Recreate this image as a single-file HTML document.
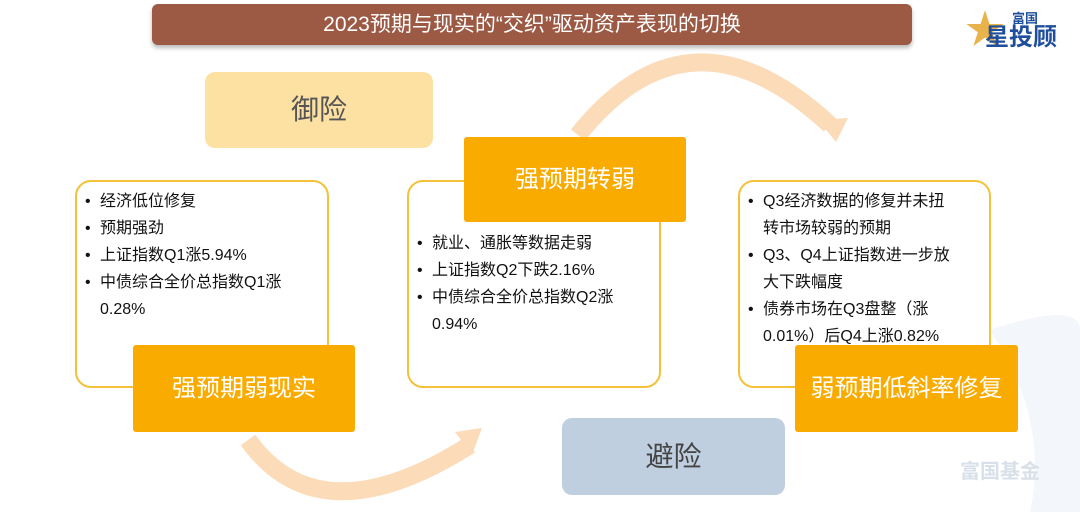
<!DOCTYPE html>
<html><head><meta charset="utf-8"><style>
body{margin:0;width:1080px;height:512px;background:#fff;position:relative;overflow:hidden;font-family:"Liberation Sans","Noto Sans CJK SC",sans-serif;}
.a{position:absolute;box-sizing:border-box;}
.title{left:152px;top:4px;width:760px;height:41px;background:#9c5a45;border-radius:6px;color:#fff;font-size:21px;text-align:center;line-height:41px;box-shadow:0 3px 4px #bbb;}
.box{border:2px solid #f3c23a;border-radius:16px;background:#fff;}
.or{background:#f9ab00;color:#fff;font-size:24px;text-align:center;border-radius:3px;}
ul{margin:0;padding:0;list-style:none;font-size:16px;line-height:27px;color:#111;}
li{padding-left:15px;position:relative;}
li:before{content:"•";position:absolute;left:0;}
</style></head><body>
<svg class="a" style="left:0;top:0" width="1080" height="512">
<path d="M248,440 Q320,540 470,445" fill="none" stroke="#fcdcb8" stroke-width="18"/>
<polygon points="455,432 482,428 472,455" fill="#fcdcb8"/>
<path d="M578,135 Q690,-5 830,125" fill="none" stroke="#fcdcb8" stroke-width="18"/>
<polygon points="818,120 848,118 836,142" fill="#fcdcb8"/>
<path d="M990,330 Q1080,300 1080,330 L1080,512 L1030,512 Q1050,420 990,330Z" fill="#f3f6fa"/>
</svg>
<div class="a title">2023预期与现实的“交织”驱动资产表现的切换</div>
<div class="a" style="left:965px;top:8px;width:100px;height:45px;">
<span class="a" style="left:0;top:0;font-size:40px;color:#e8b34a;line-height:45px;">★</span>
<span class="a" style="left:47px;top:0;font-size:13px;color:#1f4e9c;font-weight:bold;">富国</span>
<span class="a" style="left:20px;top:16px;font-size:24px;color:#1f4e9c;font-weight:bold;line-height:28px;">星投顾</span></div>
<div class="a" style="left:205px;top:72px;width:228px;height:76px;background:#fde1a2;border-radius:10px;color:#555;font-size:28px;text-align:center;line-height:76px;">御险</div>
<div class="a" style="left:562px;top:418px;width:223px;height:77px;background:#bfcfe0;border-radius:10px;color:#444;font-size:28px;text-align:center;line-height:77px;">避险</div>
<div class="a box" style="left:75px;top:180px;width:254px;height:208px;padding:6px 0 0 8px;"><ul>
<li>经济低位修复</li><li>预期强劲</li><li>上证指数Q1涨5.94%</li><li>中债综合全价总指数Q1涨<br>0.28%</li></ul></div>
<div class="a box" style="left:407px;top:180px;width:254px;height:208px;padding:48px 0 0 8px;"><ul>
<li>就业、通胀等数据走弱</li><li>上证指数Q2下跌2.16%</li><li>中债综合全价总指数Q2涨<br>0.94%</li></ul></div>
<div class="a box" style="left:738px;top:180px;width:253px;height:208px;padding:6px 0 0 8px;"><ul>
<li>Q3经济数据的修复并未扭<br>转市场较弱的预期</li><li>Q3、Q4上证指数进一步放<br>大下跌幅度</li><li>债券市场在Q3盘整（涨<br>0.01%）后Q4上涨0.82%</li></ul></div>
<div class="a or" style="left:133px;top:345px;width:222px;height:87px;line-height:87px;">强预期弱现实</div>
<div class="a or" style="left:464px;top:137px;width:222px;height:85px;line-height:85px;">强预期转弱</div>
<div class="a or" style="left:795px;top:345px;width:223px;height:87px;line-height:87px;">弱预期低斜率修复</div>
<div class="a" style="left:960px;top:455px;font-size:20px;color:#d8e0ea;font-weight:bold;">富国基金</div>
</body></html>
